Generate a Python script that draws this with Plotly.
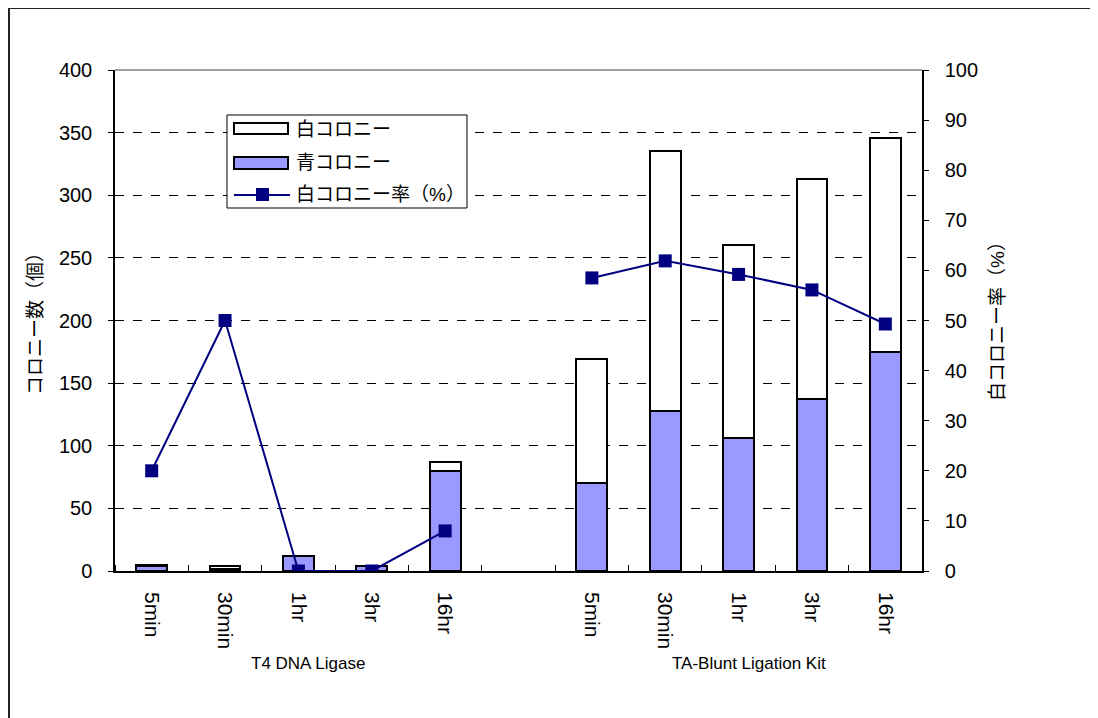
import plotly.graph_objects as go

# ---- data ----
time_labels = ["5min", "30min", "1hr", "3hr", "16hr"]
group_labels = ["T4 DNA Ligase", "TA-Blunt Ligation Kit"]
blue_t4 = [4, 2, 12, 4, 80]
white_t4 = [1, 2, 0, 0, 7]
rate_t4 = [20, 50, 0, 0, 8]
blue_ta = [70, 128, 106, 137, 175]
white_ta = [99, 207, 154, 176, 171]
rate_ta = [58.5, 61.9, 59.2, 56.1, 49.3]

legend_names = ["白コロニー", "青コロニー", "白コロニー率（%）"]
y1_title = "コロニー数（個）"
y2_title = "白コロニー率（%）"

# positions (slot 5 is an empty gap between the two groups)
x_t4 = list(range(0, 5))
x_ta = list(range(6, 11))
x_bars = x_t4 + x_ta
x_line = x_t4 + [5] + x_ta
rate_line = rate_t4 + [None] + rate_ta

FONT = "Liberation Sans, Noto Sans CJK JP, sans-serif"
BLUE = "#9999FF"
NAVY = "#000080"

# page geometry (the figure sits 8px in from the page corner)
OFF = 8
W, H = 1098, 718
L, R, T, B = 115, 922, 70, 571


def px(x):
    return (x - L) / (R - L)


def py(y):
    return (B - y) / (B - T)


fig = go.Figure()
fig.add_trace(go.Bar(x=x_bars, y=blue_t4 + blue_ta, marker=dict(color=BLUE, line=dict(color="black", width=2)),
                     width=0.42, name=legend_names[1], showlegend=False))
fig.add_trace(go.Bar(x=x_bars, y=white_t4 + white_ta, marker=dict(color="white", line=dict(color="black", width=2)),
                     width=0.42, name=legend_names[0], showlegend=False))
fig.add_trace(go.Scatter(x=x_line, y=rate_line, yaxis="y2", mode="lines+markers",
                         line=dict(color=NAVY, width=2), marker=dict(symbol="square", size=13, color=NAVY),
                         connectgaps=False, name=legend_names[2], showlegend=False))

tick_text = time_labels + [""] + time_labels

fig.update_layout(
    width=W - OFF, height=H - OFF,
    margin=dict(l=L - OFF, r=W - R, t=T - OFF, b=H - B, pad=0),
    paper_bgcolor="white", plot_bgcolor="white",
    barmode="stack",
    font=dict(family=FONT, size=20, color="black"),
    xaxis=dict(range=[-0.5, 10.5], tickmode="array", tickvals=list(range(11)), ticktext=tick_text,
               tickangle=90, ticks="", showline=True, linecolor="black", linewidth=1.5,
               showgrid=False, zeroline=False, ticklabelstandoff=15,
               tickfont=dict(size=21),
               minor=dict(tickmode="linear", tick0=0.5, dtick=1, ticks="inside", ticklen=6,
                          tickcolor="black", tickwidth=1, showgrid=False)),
    yaxis=dict(range=[0, 400], dtick=50, showgrid=True, gridcolor="black", griddash="dash", gridwidth=1,
               showline=True, linecolor="black", linewidth=1.5, ticks="outside", ticklen=5,
               tickcolor="black", zeroline=False, ticklabelstandoff=12, tickfont=dict(size=20)),
    yaxis2=dict(range=[0, 100], dtick=10, overlaying="y", side="right", showgrid=False,
                showline=True, linecolor="black", linewidth=1.5, ticks="outside", ticklen=5,
                tickcolor="black", zeroline=False, ticklabelstandoff=12, tickfont=dict(size=20)),
)

shapes = []
# plot-area top border
shapes.append(dict(type="line", xref="paper", yref="paper", x0=0, x1=1, y0=1, y1=1,
                   line=dict(color="#808080", width=1.5)))
# outer chart frame
shapes.append(dict(type="line", xref="paper", yref="paper", x0=px(9), x1=px(9), y0=py(7), y1=py(720),
                   line=dict(color="#222222", width=2)))
shapes.append(dict(type="line", xref="paper", yref="paper", x0=px(8), x1=px(1100), y0=py(8), y1=py(8),
                   line=dict(color="#222222", width=2)))
# legend box
shapes.append(dict(type="rect", xref="paper", yref="paper", x0=px(227), x1=px(467), y0=py(115), y1=py(208),
                   fillcolor="white", line=dict(color="black", width=1)))
shapes.append(dict(type="rect", xref="paper", yref="paper", x0=px(234), x1=px(288), y0=py(123), y1=py(134),
                   fillcolor="white", line=dict(color="black", width=2)))
shapes.append(dict(type="rect", xref="paper", yref="paper", x0=px(234), x1=px(288), y0=py(157), y1=py(169),
                   fillcolor=BLUE, line=dict(color="black", width=2)))
shapes.append(dict(type="line", xref="paper", yref="paper", x0=px(234), x1=px(290), y0=py(195), y1=py(195),
                   line=dict(color=NAVY, width=2)))
shapes.append(dict(type="rect", xref="paper", yref="paper", x0=px(256), x1=px(269), y0=py(188), y1=py(201),
                   fillcolor=NAVY, line=dict(color=NAVY, width=0)))
fig.update_layout(shapes=shapes)

ann = []
for name, yy in zip(legend_names, [129, 162, 194]):
    ann.append(dict(xref="paper", yref="paper", x=px(294), y=py(yy), text=name, showarrow=False,
                    xanchor="left", yanchor="middle", font=dict(size=19)))
# axis titles
ann.append(dict(xref="paper", yref="paper", x=px(35), y=py(319), text=y1_title, textangle=-90,
                showarrow=False, xanchor="center", yanchor="middle", font=dict(size=19)))
ann.append(dict(xref="paper", yref="paper", x=px(997), y=py(317), text=y2_title, textangle=-90,
                showarrow=False, xanchor="center", yanchor="middle", font=dict(size=19)))
# group labels
for g, xc in zip(group_labels, [2, 8]):
    ann.append(dict(xref="x", yref="paper", x=xc, y=py(663), text=g, showarrow=False,
                    xanchor="center", yanchor="middle", xshift=10, font=dict(size=17)))
fig.update_layout(annotations=ann)

fig.write_html("out.html")
